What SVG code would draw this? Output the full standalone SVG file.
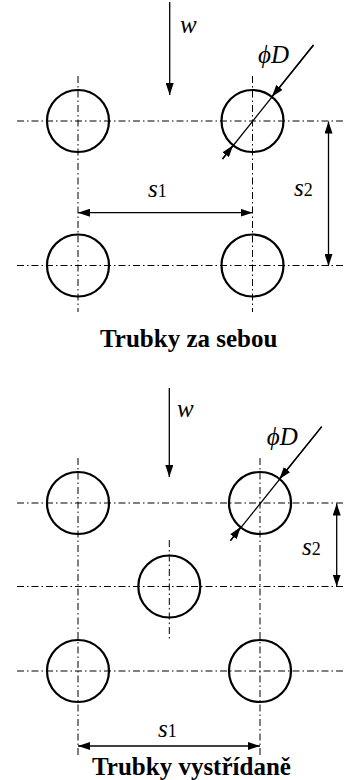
<svg xmlns="http://www.w3.org/2000/svg" width="355" height="780" viewBox="0 0 355 780">
<style>
.bg{fill:#fff}
.tube{fill:none;stroke:#000;stroke-width:2.2}
.cl{fill:none;stroke:#000;stroke-width:1;stroke-dasharray:7 3 1.5 3}
.dim{fill:none;stroke:#000;stroke-width:1.3}
.lab{font-family:"Liberation Serif","Times New Roman",serif;font-style:italic;font-size:25px;fill:#000}
.sub{font-style:normal;font-size:18px}
.title{font-family:"Liberation Serif","Times New Roman",serif;font-weight:bold;font-size:25px;fill:#000}
</style>
<defs>
<marker id="ah" viewBox="0 0 12 8" refX="12" refY="4" markerWidth="12" markerHeight="8" markerUnits="userSpaceOnUse" orient="auto-start-reverse">
<path d="M0,0 L12,4 L0,8 z" fill="#000"/>
</marker>
</defs>
<rect class="bg" x="0" y="0" width="355" height="780"/>

<g id="centerlines">
<line class="cl" x1="17" y1="121" x2="345" y2="121"/>
<line class="cl" x1="17" y1="265.5" x2="345" y2="265.5"/>
<line class="cl" x1="78" y1="76" x2="78" y2="312"/>
<line class="cl" x1="252.5" y1="76" x2="252.5" y2="312"/>
<line class="cl" x1="17" y1="503" x2="345" y2="503"/>
<line class="cl" x1="17" y1="586.5" x2="345" y2="586.5"/>
<line class="cl" x1="17" y1="671" x2="345" y2="671"/>
<line class="cl" x1="78" y1="458" x2="78" y2="756"/>
<line class="cl" x1="260" y1="458" x2="260" y2="758"/>
<line class="cl" x1="169.3" y1="540" x2="169.3" y2="640"/>
</g>

<g id="tube-a1"><circle class="tube" cx="78" cy="121" r="31"/></g>
<g id="tube-a2"><circle class="tube" cx="252.5" cy="121" r="31"/></g>
<g id="tube-a3"><circle class="tube" cx="78" cy="265.5" r="31"/></g>
<g id="tube-a4"><circle class="tube" cx="252.5" cy="265.5" r="31"/></g>

<g id="tube-b1"><circle class="tube" cx="78" cy="503" r="31"/></g>
<g id="tube-b2"><circle class="tube" cx="260" cy="503" r="31"/></g>
<g id="tube-b3"><circle class="tube" cx="169.3" cy="586.5" r="31"/></g>
<g id="tube-b4"><circle class="tube" cx="78" cy="671" r="31"/></g>
<g id="tube-b5"><circle class="tube" cx="260" cy="671" r="31"/></g>

<g id="connectors">
<line class="dim" x1="169.7" y1="2" x2="169.7" y2="95" marker-end="url(#ah)"/>
<line class="dim" x1="313.5" y1="45" x2="222.5" y2="159"/>
<line class="dim" x1="313.5" y1="45" x2="271.9" y2="96.7" marker-end="url(#ah)"/>
<line class="dim" x1="222.5" y1="159" x2="233.1" y2="145.3" marker-end="url(#ah)"/>
<line class="dim" x1="78" y1="212.7" x2="252.5" y2="212.7" marker-start="url(#ah)" marker-end="url(#ah)"/>
<line class="dim" x1="328.5" y1="121.5" x2="328.5" y2="266" marker-start="url(#ah)" marker-end="url(#ah)"/>
<line class="dim" x1="169.3" y1="388" x2="169.3" y2="477" marker-end="url(#ah)"/>
<line class="dim" x1="321.7" y1="426.7" x2="230.5" y2="540.7"/>
<line class="dim" x1="321.7" y1="426.7" x2="279.4" y2="478.9" marker-end="url(#ah)"/>
<line class="dim" x1="230.5" y1="540.7" x2="240.6" y2="527.1" marker-end="url(#ah)"/>
<line class="dim" x1="336.7" y1="503.5" x2="336.7" y2="586.5" marker-start="url(#ah)" marker-end="url(#ah)"/>
<line class="dim" x1="78" y1="746" x2="260" y2="746" marker-start="url(#ah)" marker-end="url(#ah)"/>
</g>

<g id="labels">
<text class="lab" x="180" y="33">w</text>
<text class="lab" x="258" y="63">ϕD</text>
<text class="lab" x="148" y="197">s<tspan class="sub">1</tspan></text>
<text class="lab" x="294" y="196">s<tspan class="sub">2</tspan></text>
<text class="title" x="100" y="347">Trubky za sebou</text>
<text class="lab" x="177" y="417">w</text>
<text class="lab" x="266.7" y="445">ϕD</text>
<text class="lab" x="302" y="555">s<tspan class="sub">2</tspan></text>
<text class="lab" x="158" y="737">s<tspan class="sub">1</tspan></text>
<text class="title" x="92" y="775">Trubky vystřídaně</text>
</g>
</svg>
